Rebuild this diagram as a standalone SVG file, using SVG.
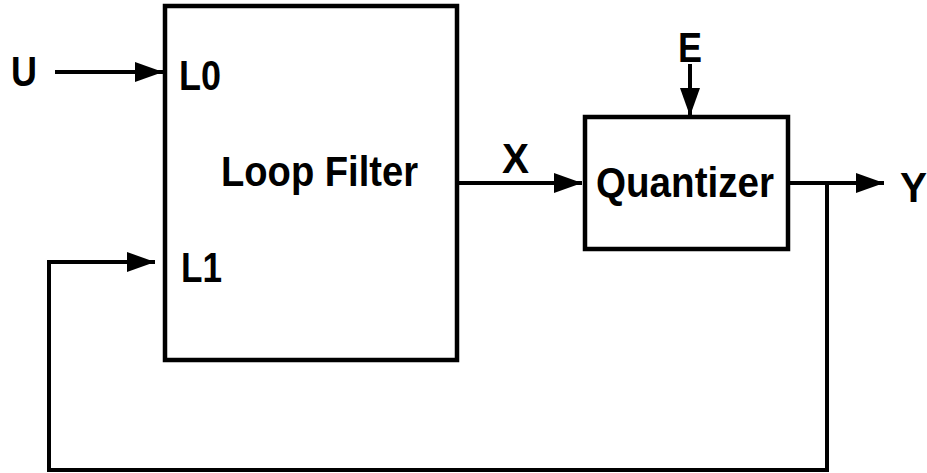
<svg xmlns="http://www.w3.org/2000/svg" width="927" height="473" viewBox="0 0 927 473">
<style>
.box{fill:#fff;stroke:#000;stroke-width:4.5}
.ln{fill:none;stroke:#000;stroke-width:4}
text{font-family:"Liberation Sans",Arial,sans-serif;font-weight:bold;font-size:42px;fill:#000}
</style>
<defs>
<marker id="ah" markerUnits="userSpaceOnUse" markerWidth="30" markerHeight="20" refX="28" refY="10" orient="auto">
<path d="M0,0 L28,10 L0,20 Z" fill="#000"/>
</marker>
</defs>
<rect width="927" height="473" fill="#fff"/>
<g id="connectors">
<line class="ln" x1="55" y1="72" x2="163" y2="72" marker-end="url(#ah)"/>
<line class="ln" x1="457" y1="183" x2="582" y2="183" marker-end="url(#ah)"/>
<line class="ln" x1="690" y1="64" x2="690" y2="116" marker-end="url(#ah)"/>
<line class="ln" x1="788" y1="183" x2="884" y2="183" marker-end="url(#ah)"/>
<polyline class="ln" points="827,183 827,470 49,470 49,262 155,262" marker-end="url(#ah)"/>
</g>
<g id="loop-filter">
<rect class="box" x="165" y="6" width="292" height="354"/>
<text x="221" y="186" textLength="197" lengthAdjust="spacingAndGlyphs">Loop Filter</text>
<text x="179" y="90" textLength="42" lengthAdjust="spacingAndGlyphs">L0</text>
<text x="181" y="282" textLength="41" lengthAdjust="spacingAndGlyphs">L1</text>
</g>
<g id="quantizer">
<rect class="box" x="585" y="117" width="203" height="132"/>
<text x="596" y="197" textLength="178" lengthAdjust="spacingAndGlyphs">Quantizer</text>
</g>
<g id="labels">
<text x="11" y="86" textLength="26" lengthAdjust="spacingAndGlyphs">U</text>
<text x="502" y="173" textLength="27" lengthAdjust="spacingAndGlyphs">X</text>
<text x="678" y="62" textLength="24" lengthAdjust="spacingAndGlyphs">E</text>
<text x="900" y="202" textLength="27" lengthAdjust="spacingAndGlyphs">Y</text>
</g>
</svg>
